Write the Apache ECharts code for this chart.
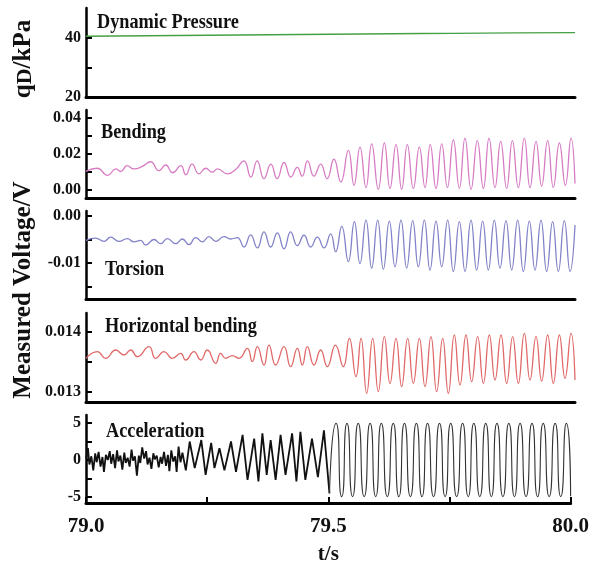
<!DOCTYPE html>
<html>
<head>
<meta charset="utf-8">
<script src="https://cdn.jsdelivr.net/npm/echarts@6/dist/echarts.min.js"></script>
<style>
  html, body { margin: 0; padding: 0; background: #fff; }
  #chart { width: 592px; height: 570px; }
</style>
</head>
<body>
<div id="chart"></div>
<script>
// Time window (s) and axis ticks
const timeRange = [79.0, 80.0];
const timeTicks = [79.0, 79.25, 79.5, 79.75, 80.0];
const timeLabels = [79.0, 79.5, 80.0];

// Dynamic pressure, kPa: [t, q]
const pressure = [
  [79.0, 40.6], [79.125, 40.8], [79.25, 40.95], [79.375, 41.1], [79.5, 41.3],
  [79.625, 41.45], [79.75, 41.6], [79.875, 41.75], [80.0, 41.85]
];

// Bending strain-gauge voltage, V: [t, v]
const bending = [
  [79.000, 0.0104], [79.023, 0.0121], [79.044, 0.0081], [79.061, 0.0117], [79.071, 0.0103],
  [79.084, 0.0135], [79.098, 0.0117], [79.115, 0.0131], [79.132, 0.0157], [79.149, 0.0108],
  [79.163, 0.0139], [79.177, 0.0096], [79.194, 0.0135], [79.204, 0.0085], [79.217, 0.0144],
  [79.231, 0.0090], [79.245, 0.0121], [79.258, 0.0099], [79.269, 0.0117], [79.289, 0.0090],
  [79.306, 0.0114], [79.323, 0.0162], [79.337, 0.0072], [79.350, 0.0162], [79.364, 0.0063],
  [79.378, 0.0144], [79.391, 0.0063], [79.405, 0.0153], [79.419, 0.0072], [79.432, 0.0126],
  [79.442, 0.0077], [79.453, 0.0162], [79.466, 0.0077], [79.480, 0.0144], [79.493, 0.0063],
  [79.507, 0.0171], [79.521, 0.0045], [79.5365, 0.0220], [79.5481, 0.0027], [79.5603, 0.0238],
  [79.5726, 0.0014], [79.5842, 0.0256], [79.5978, 0.0004], [79.6101, 0.0261], [79.6217, 0.0009],
  [79.6340, 0.0252], [79.6456, 0.0004], [79.6571, 0.0252], [79.6694, 0.0009], [79.6817, 0.0238],
  [79.6933, 0.0014], [79.7040, 0.0252], [79.7158, 0.0009], [79.7274, 0.0256], [79.7390, 0.0014],
  [79.7512, 0.0279], [79.7635, 0.0009], [79.7751, 0.0288], [79.7874, 0.0004], [79.8003, 0.0274],
  [79.8126, 0.0009], [79.8242, 0.0288], [79.8364, 0.0014], [79.8480, 0.0270], [79.8603, 0.0009],
  [79.8719, 0.0274], [79.8841, 0.0014], [79.8964, 0.0288], [79.9080, 0.0014], [79.9203, 0.0270],
  [79.9318, 0.0022], [79.9441, 0.0274], [79.9557, 0.0014], [79.9680, 0.0261], [79.9803, 0.0027],
  [79.9918, 0.0288], [80.000, 0.0036]
];

// Torsion voltage, V: [t, v]
const torsion = [
  [79.000, -0.0052], [79.0198, -0.0047], [79.0368, -0.0054], [79.0504, -0.0045], [79.0675, -0.0054],
  [79.0845, -0.0048], [79.0981, -0.0055], [79.1118, -0.0052], [79.1220, -0.0062], [79.1390, -0.0050],
  [79.1527, -0.0059], [79.1663, -0.0048], [79.1834, -0.0059], [79.1970, -0.0049], [79.2106, -0.0061],
  [79.2243, -0.0046], [79.2379, -0.0055], [79.2515, -0.0044], [79.2652, -0.0054], [79.2822, -0.0044],
  [79.2958, -0.0049], [79.3095, -0.0046], [79.3231, -0.0066], [79.3367, -0.0040], [79.3504, -0.0068],
  [79.3640, -0.0034], [79.3776, -0.0066], [79.3913, -0.0036], [79.4049, -0.0070], [79.4185, -0.0034],
  [79.4322, -0.0063], [79.4458, -0.0041], [79.4594, -0.0066], [79.4731, -0.0045], [79.4867, -0.0068],
  [79.5003, -0.0038], [79.5106, -0.0076], [79.5230, -0.0022], [79.5365, -0.0097], [79.5488, -0.0012],
  [79.5603, -0.0101], [79.5726, -0.0009], [79.5842, -0.0111], [79.5965, -0.0009], [79.6081, -0.0113],
  [79.6203, -0.0011], [79.6319, -0.0108], [79.6442, -0.0009], [79.6558, -0.0111], [79.6681, -0.0010],
  [79.6796, -0.0108], [79.6919, -0.0009], [79.7035, -0.0115], [79.7158, -0.0011], [79.7274, -0.0108],
  [79.7396, -0.0009], [79.7512, -0.0118], [79.7635, -0.0012], [79.7751, -0.0118], [79.7873, -0.0009],
  [79.7989, -0.0115], [79.8112, -0.0011], [79.8228, -0.0115], [79.8350, -0.0009], [79.8466, -0.0111],
  [79.8589, -0.0010], [79.8705, -0.0115], [79.8828, -0.0009], [79.8944, -0.0118], [79.9066, -0.0011],
  [79.9182, -0.0115], [79.9305, -0.0009], [79.9421, -0.0118], [79.9543, -0.0012], [79.9659, -0.0118],
  [79.9782, -0.0010], [79.9898, -0.0118], [80.000, -0.0019]
];

// Horizontal bending voltage, V: [t, v]
const horizontalBending = [
  [79.000, 0.013561], [79.0232, 0.013672], [79.0402, 0.013561], [79.0607, 0.013700], [79.0777, 0.013617],
  [79.0913, 0.013700], [79.1050, 0.013589], [79.1288, 0.013756], [79.1425, 0.013561], [79.1595, 0.013672],
  [79.1765, 0.013561], [79.1936, 0.013644], [79.2038, 0.013533], [79.2208, 0.013672], [79.2345, 0.013533],
  [79.2481, 0.013700], [79.2652, 0.013478], [79.2754, 0.013644], [79.2856, 0.013561], [79.2992, 0.013606],
  [79.3129, 0.013561], [79.3299, 0.013728], [79.3401, 0.013506], [79.3504, 0.013756], [79.3640, 0.013450],
  [79.3742, 0.013783], [79.3878, 0.013450], [79.4049, 0.013756], [79.4185, 0.013422], [79.4322, 0.013728],
  [79.4424, 0.013450], [79.4526, 0.013756], [79.4662, 0.013450], [79.4799, 0.013700], [79.4935, 0.013422],
  [79.5100, 0.013783], [79.5262, 0.013422], [79.5385, 0.013894], [79.5521, 0.013256], [79.5624, 0.013894],
  [79.5740, 0.012978], [79.5862, 0.013894], [79.5978, 0.013006], [79.6101, 0.013922], [79.6217, 0.013144],
  [79.6340, 0.013894], [79.6456, 0.013089], [79.6578, 0.013894], [79.6694, 0.013144], [79.6817, 0.013894],
  [79.6933, 0.013089], [79.7055, 0.013922], [79.7171, 0.013006], [79.7294, 0.013894], [79.7410, 0.012978],
  [79.7532, 0.013950], [79.7648, 0.013117], [79.7771, 0.013950], [79.7887, 0.013172], [79.8009, 0.013922],
  [79.8126, 0.013144], [79.8248, 0.013950], [79.8364, 0.013200], [79.8487, 0.013950], [79.8603, 0.013144],
  [79.8725, 0.013922], [79.8841, 0.013144], [79.8964, 0.013978], [79.9080, 0.013200], [79.9203, 0.013922],
  [79.9318, 0.013183], [79.9441, 0.013950], [79.9557, 0.013144], [79.9680, 0.013950], [79.9796, 0.013228],
  [79.9918, 0.013978], [80.000, 0.013200]
];

// Acceleration before lock-in (broadband, jagged): [t, a]
const accelerationRaw = [
  [79.000, 0.2], [79.004, 1.6], [79.007, -0.6], [79.011, 0.5], [79.015, -1.4], [79.019, 0.9],
  [79.022, -0.3], [79.026, 1.1], [79.030, -0.9], [79.034, 0.4], [79.037, -1.6], [79.041, 0.7],
  [79.045, 0.0], [79.049, 1.2], [79.052, -0.5], [79.056, 0.8], [79.060, -1.1], [79.064, 1.3],
  [79.067, -0.2], [79.071, 0.6], [79.075, -1.3], [79.079, 1.0], [79.082, -0.4], [79.086, 0.3],
  [79.090, -0.9], [79.094, 1.4], [79.097, -0.1], [79.101, 0.5], [79.105, -2.1], [79.109, 0.6],
  [79.112, -0.4], [79.116, 1.7], [79.120, 0.2], [79.124, 1.2], [79.127, -0.6], [79.131, 0.3],
  [79.135, -1.2], [79.139, 0.9], [79.142, 0.1], [79.146, 0.6], [79.150, -1.0], [79.154, 0.4],
  [79.157, -0.5], [79.161, 1.1], [79.165, -0.8], [79.169, 0.7], [79.172, -1.5], [79.176, 1.3],
  [79.180, -0.2], [79.184, 0.5], [79.187, -1.6], [79.191, 1.8], [79.195, -0.3], [79.199, 1.0],
  [79.2060, -1.4], [79.2140, 2.5], [79.2243, -1.1], [79.2379, 2.7], [79.2468, -2.0], [79.2583, 2.3],
  [79.2651, -1.1], [79.2754, 1.6], [79.2856, -1.4], [79.2992, 2.5], [79.3095, -1.6], [79.3231, 3.4],
  [79.3333, -2.7], [79.3470, 2.9], [79.3558, -2.9], [79.3640, 3.6], [79.3729, -2.0], [79.3810, 2.7],
  [79.3913, -2.7], [79.4015, 3.4], [79.4117, -2.0], [79.4253, 3.6], [79.4342, -2.9], [79.4424, 3.8],
  [79.4526, -2.7], [79.4663, 2.9], [79.4785, -2.3], [79.4910, 4.0], [79.5024, -4.5]
];

// Acceleration after lock-in (saturated oscillation): [t, a]
const accelerationLocked = [
  [79.5024, -4.5], [79.5160, 4.95], [79.5276, -4.95], [79.5385, 4.95], [79.5501, -4.95],
  [79.5617, 4.95], [79.5740, -4.95], [79.5862, 4.95], [79.5978, -4.95], [79.6094, 4.95],
  [79.6217, -4.95], [79.6340, 4.95], [79.6456, -4.95], [79.6571, 4.95], [79.6694, -4.95],
  [79.6817, 4.95], [79.6933, -4.95], [79.7048, 4.95], [79.7171, -4.95], [79.7294, 4.95],
  [79.7410, -4.95], [79.7526, 4.95], [79.7648, -4.95], [79.7771, 4.95], [79.7887, -4.95],
  [79.8003, 4.95], [79.8126, -4.95], [79.8248, 4.95], [79.8364, -4.95], [79.8480, 4.95],
  [79.8603, -4.95], [79.8725, 4.95], [79.8841, -4.95], [79.8957, 4.95], [79.9080, -4.95],
  [79.9203, 4.95], [79.9318, -4.95], [79.9434, 4.95], [79.9557, -4.95], [79.9680, 4.95],
  [79.9796, -4.95], [79.9912, 4.95], [80.000, -4.9]
];

// Y tick positions and labelled values per panel
const pressureTicks = [20, 30, 40];
const pressureLabels = [20, 40];
const bendingTicks = [0, 0.01, 0.02, 0.03, 0.04];
const bendingLabels = [0, 0.02, 0.04];
const torsionTicks = [-0.015, -0.01, -0.005, 0];
const torsionLabels = [-0.01, 0];
const hBendingTicks = [0.013, 0.0135, 0.014];
const hBendingLabels = [0.013, 0.014];
const accelTicks = [-5, -2.5, 0, 2.5, 5];
const accelLabels = [-5, 0, 5];

const SERIF = '"Liberation Serif", "Times New Roman", serif';

// Panel geometry: top, height, y-range, ticks, labels, decimals
const panels = [
  { top: 8,   height: 89, min: 20,       max: 50.2,     ticks: pressureTicks, labels: pressureLabels, dec: 0 },
  { top: 110, height: 88, min: -0.0044,  max: 0.0444,   ticks: bendingTicks,  labels: bendingLabels,  dec: 2 },
  { top: 211, height: 88, min: -0.01766, max: 0.00106,  ticks: torsionTicks,  labels: torsionLabels,  dec: 2 },
  { top: 313, height: 89, min: 0.012833, max: 0.014317, ticks: hBendingTicks, labels: hBendingLabels, dec: 3 },
  { top: 415, height: 88, min: -5.81,    max: 6.08,     ticks: accelTicks,    labels: accelLabels,    dec: 0 }
];

const grids = panels.map(p => ({ left: 86, right: 17, top: p.top, height: p.height }));

const xAxes = panels.map((p, i) => {
  const last = i === panels.length - 1;
  return {
    type: 'value', gridIndex: i, min: timeRange[0], max: timeRange[1],
    axisLine: { show: true, onZero: false, lineStyle: { color: '#000', width: 3 } },
    splitLine: { show: false },
    axisTick: last
      ? { show: true, inside: true, length: 6, customValues: timeTicks, lineStyle: { color: '#000', width: 2 } }
      : { show: false },
    axisLabel: last
      ? { show: true, customValues: timeLabels, margin: 13, formatter: v => v.toFixed(1),
          color: '#111', fontFamily: SERIF, fontWeight: 'bold', fontSize: 21 }
      : { show: false },
    name: last ? 't/s' : '',
    nameLocation: 'middle', nameGap: 41,
    nameTextStyle: { color: '#111', fontFamily: SERIF, fontWeight: 'bold', fontSize: 21 }
  };
});

const yAxes = panels.map((p, i) => ({
  type: 'value', gridIndex: i, min: p.min, max: p.max,
  axisLine: { show: true, onZero: false, lineStyle: { color: '#000', width: 2.5 } },
  splitLine: { show: false },
  axisTick: { show: true, inside: true, length: 6, customValues: p.ticks, lineStyle: { color: '#000', width: 2 } },
  axisLabel: {
    show: true, customValues: p.labels, margin: 5,
    formatter: v => v.toFixed(p.dec),
    color: '#111', fontFamily: SERIF, fontWeight: 'bold', fontSize: 16
  }
}));

function trace(data, idx, color, width, smooth) {
  return {
    type: 'line', data: data, xAxisIndex: idx, yAxisIndex: idx,
    showSymbol: false, smooth: smooth, animation: false,
    lineStyle: { color: color, width: width }
  };
}

const series = [
  trace(pressure, 0, '#44a044', 1.4, true),
  trace(bending, 1, '#d77cc4', 1.3, true),
  trace(torsion, 2, '#8282c8', 1.3, true),
  trace(horizontalBending, 3, '#e06868', 1.3, true),
  trace(accelerationRaw, 4, '#111111', 1.8, false),
  trace(accelerationLocked, 4, '#333333', 1.1, 0.8)
];

// Panel captions (condensed bold serif)
const captions = [
  { text: 'Dynamic Pressure', x: 97, y: 23 },
  { text: 'Bending', x: 101, y: 133 },
  { text: 'Torsion', x: 105, y: 270 },
  { text: 'Horizontal bending', x: 105, y: 327 },
  { text: 'Acceleration', x: 106, y: 432 }
];

const graphic = captions.map(c => ({
  type: 'text', x: c.x, y: c.y, scaleX: 0.87, silent: true,
  style: {
    text: c.text, x: 0, y: 0, fill: '#111',
    font: 'bold 21px ' + SERIF,
    textAlign: 'left', textVerticalAlign: 'middle', align: 'left', verticalAlign: 'middle'
  }
}));

// Rotated axis titles
graphic.push({
  type: 'text', x: 24, y: 59, rotation: Math.PI / 2, silent: true,
  style: {
    text: '{m|q}{s|D}{m|/kPa}', x: 0, y: 0, fill: '#111',
    font: 'bold 25px ' + SERIF,
    rich: {
      m: { fontFamily: SERIF, fontWeight: 'bold', fontSize: 25, fill: '#111', color: '#111' },
      s: { fontFamily: SERIF, fontWeight: 'bold', fontSize: 22, fill: '#111', color: '#111', verticalAlign: 'bottom' }
    },
    textAlign: 'center', textVerticalAlign: 'middle', align: 'center', verticalAlign: 'middle'
  }
});
graphic.push({
  type: 'text', x: 24, y: 290, rotation: Math.PI / 2, silent: true,
  style: {
    text: 'Measured Voltage/V', x: 0, y: 0, fill: '#111',
    font: 'bold 25px ' + SERIF,
    textAlign: 'center', textVerticalAlign: 'middle', align: 'center', verticalAlign: 'middle'
  }
});

const chart = echarts.init(document.getElementById('chart'), null, { renderer: 'canvas' });
chart.setOption({
  animation: false,
  backgroundColor: '#ffffff',
  grid: grids,
  xAxis: xAxes,
  yAxis: yAxes,
  series: series,
  graphic: graphic
});
</script>
</body>
</html>
